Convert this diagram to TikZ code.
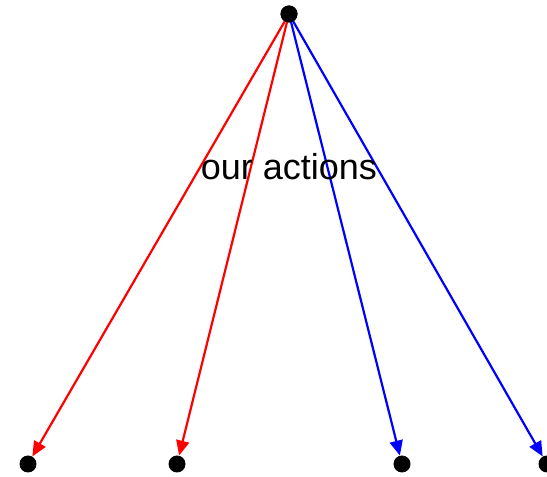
\documentclass[tikz,border=0pt]{standalone}
\usepackage{fontspec}
\setmainfont{Liberation Sans}
\usetikzlibrary{arrows.meta}

\begin{document}
\begin{tikzpicture}[x=1pt,y=1pt,
    dot/.style={circle,fill=black,inner sep=0pt,minimum size=17pt},
    act/.style={line width=2.2pt,-{Triangle[length=15pt,width=13pt]}}]
        \useasboundingbox (0,0) rectangle (547,477);
        % root and outcomes
        \node[dot] (root) at (289,463) {};
        \node[dot] (o1) at (28,13) {};
        \node[dot] (o2) at (177,13) {};
        \node[dot] (o3) at (402,13) {};
        \node[dot] (o4) at (547,13) {};
        % our actions
        \draw[act,red] (root.center) -- (o1);
        \draw[act,red] (root.center) -- (o2);
        \draw[act,blue] (root.center) -- (o3);
        \draw[act,blue] (root.center) -- (o4);
        \node[dot] at (root) {};
        \node[font=\fontsize{36}{40}\selectfont] (lbl) at (289,310) {our actions};
      \end{tikzpicture}
\end{document}
